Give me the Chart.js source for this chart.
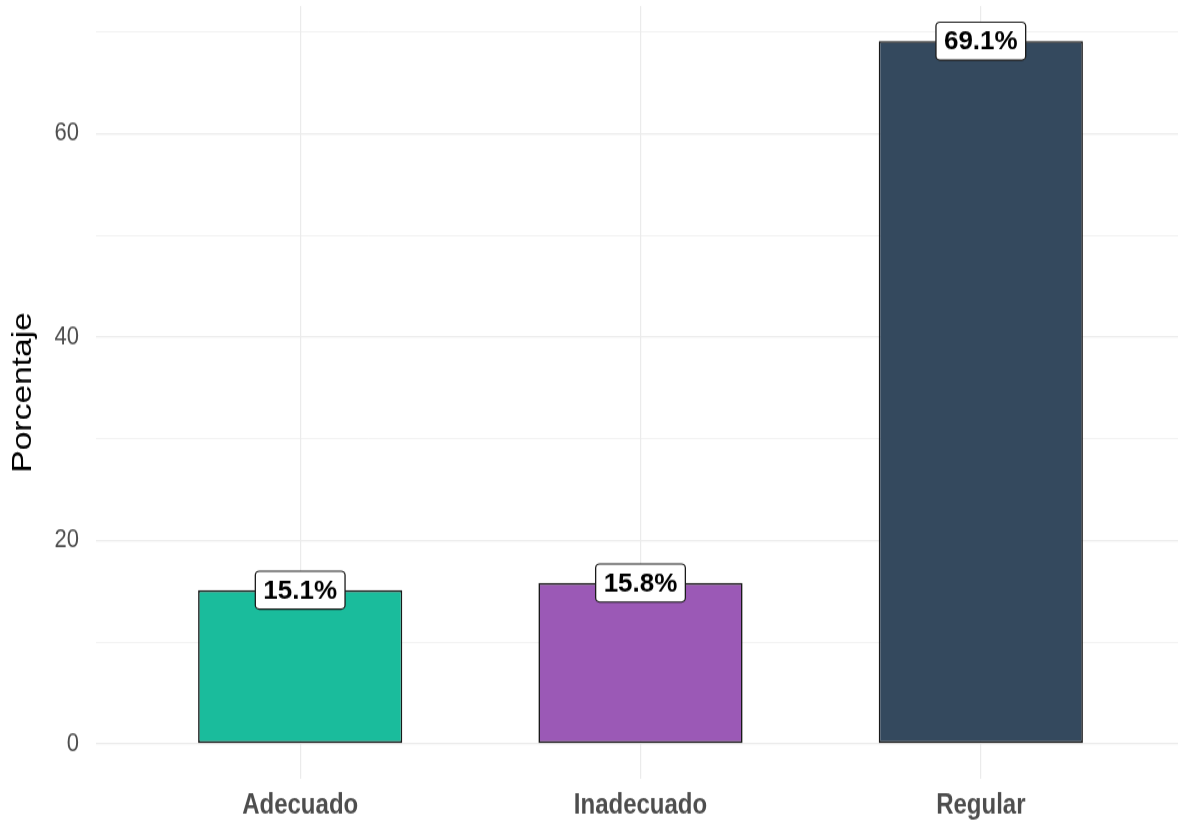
<!DOCTYPE html>
<html lang="es">
<head>
<meta charset="utf-8">
<title>Porcentaje por categoría</title>
<script src="https://cdn.jsdelivr.net/npm/chart.js@4"></script>
<style>
    html { overflow: hidden; }
    body { margin: 0; padding: 0; background: #fff; width: 1178px; height: 823px; }
    /* el gráfico se dibuja algo achatado y se estira en vertical */
    .marco { width: 1190px; height: 686px; transform: scaleY(1.2); transform-origin: 0 0; }
</style>
</head>
<body>
<div class="marco">
    <canvas class="porcentajeChart" width="1190" height="686"></canvas>
</div>
<script>
const categorias = ['Adecuado', 'Inadecuado', 'Regular'];
const porcentajes = [15.1, 15.8, 69.1];
const colores = ['#1ABC9C', '#9B59B6', '#34495E'];
const marcasY = [0, 10, 20, 30, 40, 50, 60, 70];

const ESTIRAMIENTO = 1.2;
const FUENTE = '"Liberation Sans", Arial, sans-serif';

const porcentajeChartDOM = document.querySelector('.porcentajeChart');

// margen de 5% arriba y abajo, como en ggplot
const maximo = Math.max(...porcentajes);
const margenY = maximo * 0.05;

// etiqueta blanca con borde sobre el tope de cada barra
const etiquetasPlugin = {
    id: 'etiquetas',
    afterDatasetsDraw(chart) {
        const { ctx } = chart;
        const meta = chart.getDatasetMeta(0);
        ctx.save();
        ctx.font = `bold 26px ${FUENTE}`;
        ctx.textAlign = 'center';
        ctx.textBaseline = 'middle';
        meta.data.forEach((barra, i) => {
            const texto = porcentajes[i].toFixed(1) + '%';
            const ancho = ctx.measureText(texto).width + 16;
            const alto = 38;
            ctx.save();
            ctx.translate(barra.x, barra.y);
            ctx.scale(1, 1 / ESTIRAMIENTO); // el texto de la etiqueta no se estira
            ctx.beginPath();
            ctx.roundRect(-ancho / 2, -alto / 2, ancho, alto, 4);
            ctx.fillStyle = '#ffffff';
            ctx.fill();
            ctx.lineWidth = 1.3;
            ctx.strokeStyle = '#1a1a1a';
            ctx.stroke();
            ctx.fillStyle = '#000000';
            ctx.fillText(texto, 0, 1);
            ctx.restore();
        });
        ctx.restore();
    }
};

const data = {
    datasets: [{
        label: 'Porcentaje',
        data: porcentajes.map((valor, i) => ({ x: i + 1, y: valor })),
        backgroundColor: colores,
        borderColor: '#1a1a1a',
        borderWidth: 1.6,
        borderSkipped: false,
        categoryPercentage: 0.6,
        barPercentage: 1
    }]
};

const config = {
    type: 'bar',
    data: data,
    options: {
        responsive: false,
        animation: false,
        layout: { padding: { top: 5, right: 5, left: 0, bottom: 0 } },
        plugins: {
            legend: { display: false },
            tooltip: { enabled: false }
        },
        scales: {
            x: {
                type: 'linear',
                offset: false,
                min: 0.4,
                max: categorias.length + 0.6,
                afterBuildTicks: (eje) => { eje.ticks = categorias.map((_, i) => ({ value: i + 1 })); },
                afterFit: (eje) => {
                    eje.height = 37;
                    eje.paddingLeft = 0;
                    eje.paddingRight = 0;
                },
                grid: { color: '#EBEBEB', lineWidth: 1.2, drawTicks: false, offset: false },
                border: { display: false },
                ticks: {
                    callback: (value) => categorias[Math.round(value) - 1] ?? '',
                    font: { family: FUENTE, size: 24, weight: 'bold' },
                    color: '#4D4D4D',
                    padding: 8,
                    maxRotation: 0,
                    autoSkip: false
                }
            },
            y: {
                min: -margenY,
                max: maximo + margenY,
                afterBuildTicks: (eje) => { eje.ticks = marcasY.map(v => ({ value: v })); },
                afterFit: (eje) => {
                    eje.width = 96;
                    eje.paddingTop = 0;
                    eje.paddingBottom = 0;
                },
                grid: {
                    color: '#EBEBEB',
                    lineWidth: (ctx) => (ctx.tick && ctx.tick.value % 20 === 0 ? 1.2 : 0.7),
                    drawTicks: false
                },
                border: { display: false },
                ticks: {
                    callback: (value) => (value % 20 === 0 ? value : ''),
                    font: { family: FUENTE, size: 22 },
                    color: '#4D4D4D',
                    padding: 17
                },
                title: {
                    display: true,
                    text: 'Porcentaje',
                    font: { family: FUENTE, size: 28 },
                    color: '#000000',
                    padding: { top: 6, bottom: 0 }
                }
            }
        }
    },
    plugins: [etiquetasPlugin]
};

const porcentajeChart = new Chart(porcentajeChartDOM, config);
</script>
</body>
</html>
